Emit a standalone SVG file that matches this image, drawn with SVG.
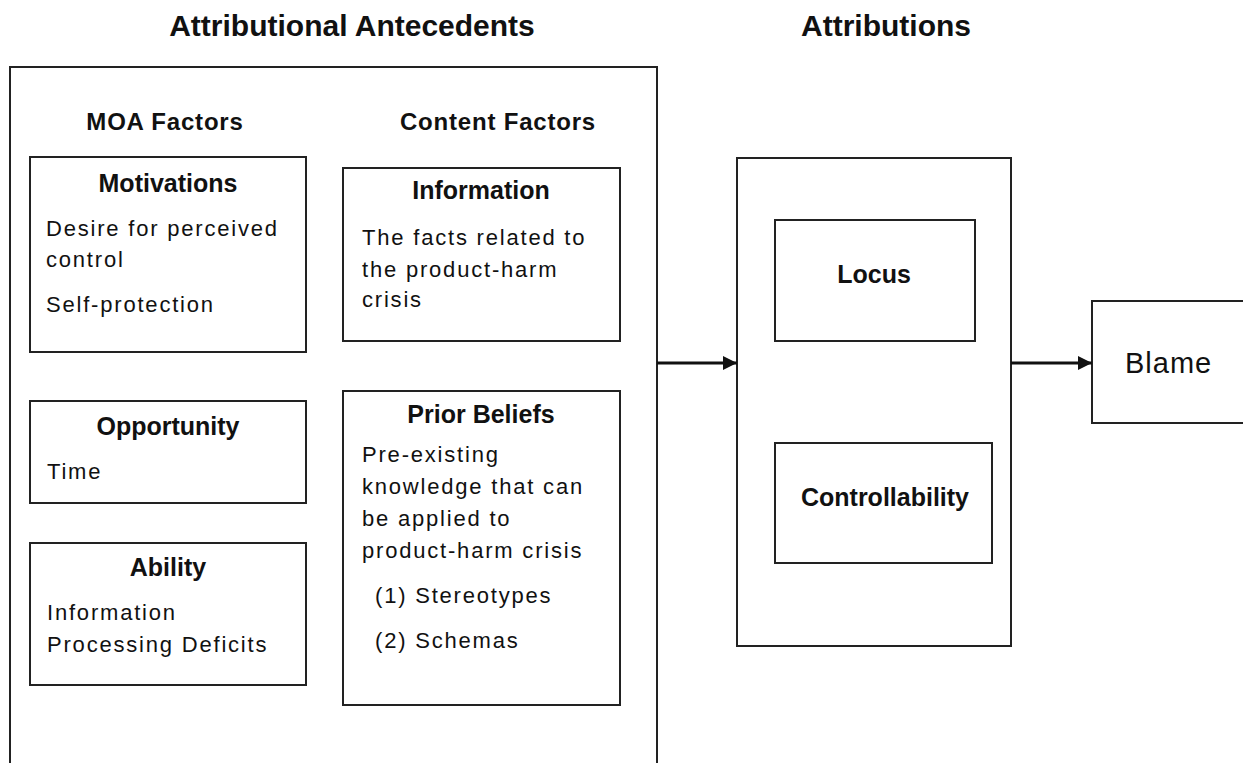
<svg xmlns="http://www.w3.org/2000/svg" width="1243" height="763" viewBox="0 0 1243 763">
<defs>
<style>
.box{fill:none;stroke:#222;stroke-width:2}
.hdr{font-family:"Liberation Sans",Arial,sans-serif;font-weight:bold;font-size:30px;fill:#111;text-anchor:middle}
.sec{font-family:"Liberation Sans",Arial,sans-serif;font-weight:bold;font-size:24px;letter-spacing:0.8px;fill:#111;text-anchor:middle}
.ttl{font-family:"Liberation Sans",Arial,sans-serif;font-weight:bold;font-size:25px;fill:#111;text-anchor:middle}
.body{font-family:"Liberation Sans",Arial,sans-serif;font-size:22px;letter-spacing:1.8px;fill:#111}
.big{font-family:"Liberation Sans",Arial,sans-serif;font-size:29px;letter-spacing:1px;fill:#111}
.conn{stroke:#111;stroke-width:3;fill:none}
</style>
<marker id="arr" markerUnits="userSpaceOnUse" markerWidth="15" markerHeight="14" refX="14" refY="7" orient="auto">
<path d="M0,0 L14,7 L0,14 z" fill="#111"/>
</marker>
</defs>
<rect width="1243" height="763" fill="#fff"/>

<g id="antecedents">
<text class="hdr" x="352" y="36">Attributional Antecedents</text>
<path class="box" d="M10,770 V67 H657 V770"/>
<text class="sec" x="165" y="130">MOA Factors</text>
<text class="sec" x="498" y="130">Content Factors</text>
</g>

<g id="motivations">
<rect class="box" x="30" y="157" width="276" height="195"/>
<text class="ttl" x="168" y="192">Motivations</text>
<text class="body" x="46" y="236">Desire for perceived</text>
<text class="body" x="46" y="267">control</text>
<text class="body" x="46" y="312">Self-protection</text>
</g>

<g id="opportunity">
<rect class="box" x="30" y="401" width="276" height="102"/>
<text class="ttl" x="168" y="435">Opportunity</text>
<text class="body" x="47" y="479">Time</text>
</g>

<g id="ability">
<rect class="box" x="30" y="543" width="276" height="142"/>
<text class="ttl" x="168" y="576">Ability</text>
<text class="body" x="47" y="620">Information</text>
<text class="body" x="47" y="652">Processing Deficits</text>
</g>

<g id="information">
<rect class="box" x="343" y="168" width="277" height="173"/>
<text class="ttl" x="481" y="199">Information</text>
<text class="body" x="362" y="245">The facts related to</text>
<text class="body" x="362" y="277">the product-harm</text>
<text class="body" x="362" y="307">crisis</text>
</g>

<g id="prior-beliefs">
<rect class="box" x="343" y="391" width="277" height="314"/>
<text class="ttl" x="481" y="423">Prior Beliefs</text>
<text class="body" x="362" y="462">Pre-existing</text>
<text class="body" x="362" y="494">knowledge that can</text>
<text class="body" x="362" y="526">be applied to</text>
<text class="body" x="362" y="558">product-harm crisis</text>
<text class="body" x="375" y="603">(1) Stereotypes</text>
<text class="body" x="375" y="648">(2) Schemas</text>
</g>

<g id="attributions">
<text class="hdr" x="886" y="36">Attributions</text>
<rect class="box" x="737" y="158" width="274" height="488"/>
</g>

<g id="locus">
<rect class="box" x="775" y="220" width="200" height="121"/>
<text class="ttl" x="874" y="283">Locus</text>
</g>

<g id="controllability">
<rect class="box" x="775" y="443" width="217" height="120"/>
<text class="ttl" x="885" y="506">Controllability</text>
</g>

<g id="blame">
<rect class="box" x="1092" y="301" width="170" height="122"/>
<text class="big" x="1125" y="373">Blame</text>
</g>

<g id="connectors">
<line class="conn" x1="657" y1="363" x2="737" y2="363" marker-end="url(#arr)"/>
<line class="conn" x1="1011" y1="363" x2="1092" y2="363" marker-end="url(#arr)"/>
</g>
</svg>
